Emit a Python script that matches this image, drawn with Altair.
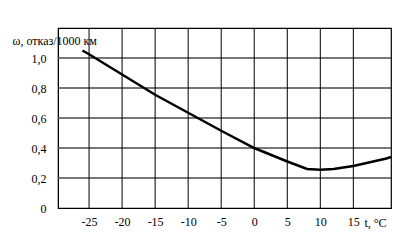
import altair as alt
import pandas as pd

temps = [-26, -25, -20, -15, -10, -5, 0, 5, 8, 10, 12, 15, 20, 20.7]
omega = [1.05, 1.025, 0.89, 0.755, 0.635, 0.515, 0.40, 0.31, 0.26, 0.255, 0.26, 0.28, 0.33, 0.34]
x_ticks = [-25, -20, -15, -10, -5, 0, 5, 10, 15]
y_ticks = [0, 0.2, 0.4, 0.6, 0.8, 1.0]

df = pd.DataFrame({"t": temps, "w": omega})
vgrid = pd.DataFrame({"t": x_ticks})
hgrid = pd.DataFrame({"w": y_ticks[1:]})

FONT = "Liberation Serif"

xscale = alt.Scale(domain=[-29.7, 20.7], nice=False, zero=False)
yscale = alt.Scale(domain=[0, 1.2], nice=False)

xaxis = alt.Axis(values=x_ticks, title="t, °C", titleAngle=0,
                 titleX=317, titleY=18, titleBaseline="alphabetic",
                 titleAlign="center", titleFont=FONT, titleFontSize=12,
                 titleFontWeight="normal", titleColor="black",
                 labelExpr="'' + datum.value",
                 labelFont=FONT, labelFontSize=12, labelColor="black",
                 labelPadding=8, ticks=False, domain=True,
                 domainColor="black", grid=False)
yaxis = alt.Axis(values=y_ticks, title="ω, отказ/1000 км", titleAngle=0,
                 titleX=-46, titleY=16, titleBaseline="alphabetic",
                 titleAlign="left", titleFont=FONT, titleFontSize=12,
                 titleFontWeight="normal", titleColor="black",
                 labelExpr="replace('' + datum.value, '.', ',') + (datum.value > 0 && datum.value * 10 % 2 == 0 && datum.value == 1 ? ',0' : '')",
                 labelFont=FONT, labelFontSize=12, labelColor="black",
                 labelPadding=12, ticks=False, domain=True,
                 domainColor="black", grid=False)

vrules = alt.Chart(vgrid).mark_rule(color="black", strokeWidth=1).encode(
    x=alt.X("t:Q", scale=xscale, axis=xaxis))
hrules = alt.Chart(hgrid).mark_rule(color="#4a4a4a", strokeWidth=1.5).encode(
    y=alt.Y("w:Q", scale=yscale, axis=yaxis))
line = alt.Chart(df).mark_line(color="black", strokeWidth=2.5).encode(
    x=alt.X("t:Q", scale=xscale, axis=xaxis),
    y=alt.Y("w:Q", scale=yscale, axis=yaxis))

chart = alt.layer(hrules, vrules, line).properties(
    width=333, height=180,
    autosize=alt.AutoSizeParams(type="none"),
    padding={"left": 58, "top": 28, "right": 27, "bottom": 36},
).configure_view(stroke="black", strokeWidth=1.2)

chart.save("out.html", embed_options={"renderer": "svg", "actions": False})
